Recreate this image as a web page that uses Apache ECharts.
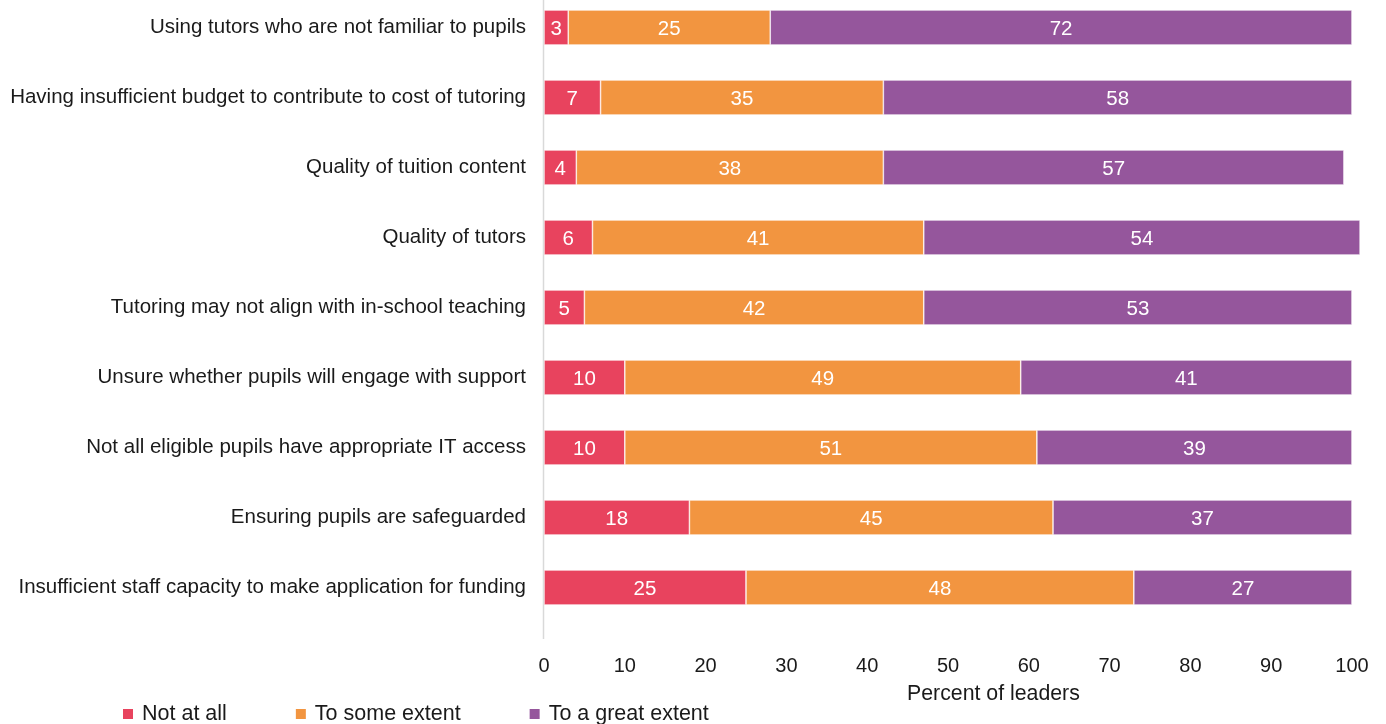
<!DOCTYPE html>
<html>
<head>
<meta charset="utf-8">
<script src="https://cdn.jsdelivr.net/npm/echarts@6/dist/echarts.min.js"></script>
<style>
  html, body { margin: 0; padding: 0; background: #ffffff; }
  #chart { width: 1386px; height: 724px; }
</style>
</head>
<body>
<div id="chart"></div>
<script>
// Barriers to tutoring, share of leaders by extent (top to bottom)
const categories = [
  'Using tutors who are not familiar to pupils',
  'Having insufficient budget to contribute to cost of tutoring',
  'Quality of tuition content',
  'Quality of tutors',
  'Tutoring may not align with in-school teaching',
  'Unsure whether pupils will engage with support',
  'Not all eligible pupils have appropriate IT access',
  'Ensuring pupils are safeguarded',
  'Insufficient staff capacity to make application for funding'
];
const notAtAll      = [3, 7, 4, 6, 5, 10, 10, 18, 25];
const toSomeExtent  = [25, 35, 38, 41, 42, 49, 51, 45, 48];
const toGreatExtent = [72, 58, 57, 54, 53, 41, 39, 37, 27];
const seriesNames = ['Not at all', 'To some extent', 'To a great extent'];
const xTicks = [0, 10, 20, 30, 40, 50, 60, 70, 80, 90, 100];
const axisTitle = 'Percent of leaders';

const FONT = '"Liberation Sans", Arial, sans-serif';
const colors = ['#E8435E', '#F29540', '#95569C'];

function barSeries(name, data, color) {
  return {
    name: name,
    type: 'bar',
    stack: 'total',
    data: data,
    barWidth: 35,
    clip: false,
    itemStyle: { color: color, borderColor: '#ffffff', borderWidth: 0.6 },
    label: {
      show: true,
      position: 'inside',
      offset: [0, 1.5],
      color: '#ffffff',
      fontFamily: FONT,
      fontSize: 20.5
    },
    emphasis: { disabled: true }
  };
}

const chart = echarts.init(document.getElementById('chart'), null, { renderer: 'canvas' });

chart.setOption({
  animation: false,
  color: colors,
  grid: {
    left: 544, width: 808, top: -7.5, height: 630,
    containLabel: false,
    outerBoundsMode: 'none'
  },
  xAxis: {
    type: 'value',
    min: xTicks[0],
    max: xTicks[xTicks.length - 1],
    interval: 10,
    axisLine: { show: false },
    axisTick: { show: false },
    splitLine: { show: false },
    axisLabel: {
      margin: 34,
      color: '#1a1a1a',
      fontFamily: FONT,
      fontSize: 20,
      formatter: (v) => (xTicks.indexOf(v) >= 0 ? String(v) : '')
    }
  },
  yAxis: {
    type: 'category',
    data: categories,
    inverse: true,
    axisLine: { show: false },
    axisTick: { show: false },
    splitLine: { show: false },
    axisLabel: {
      margin: 18,
      padding: [4, 0, 0, 0],
      color: '#1a1a1a',
      fontFamily: FONT,
      fontSize: 20.5
    }
  },
  legend: {
    data: seriesNames,
    left: 121,
    top: 703,
    padding: 0,
    itemWidth: 12,
    itemHeight: 12,
    itemGap: 67,
    icon: 'rect',
    selectedMode: false,
    textStyle: {
      color: '#1a1a1a',
      fontFamily: FONT,
      fontSize: 21.5,
      padding: [0, 0, 0, 3]
    }
  },
  title: {
    text: axisTitle,
    left: 907,
    top: 684,
    padding: 0,
    textStyle: {
      color: '#1a1a1a',
      fontFamily: FONT,
      fontSize: 21.3,
      fontWeight: 'normal'
    }
  },
  graphic: [{
    // vertical baseline at the value-axis origin
    type: 'line',
    shape: { x1: 543.5, y1: 0, x2: 543.5, y2: 639 },
    style: { stroke: '#d9d9d9', lineWidth: 1.5 },
    z: 0
  }],
  series: [
    barSeries(seriesNames[0], notAtAll, colors[0]),
    barSeries(seriesNames[1], toSomeExtent, colors[1]),
    barSeries(seriesNames[2], toGreatExtent, colors[2])
  ]
});
</script>
</body>
</html>
